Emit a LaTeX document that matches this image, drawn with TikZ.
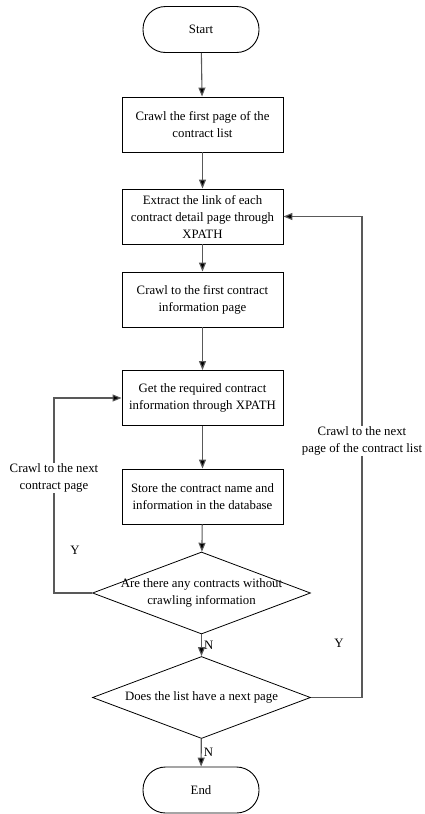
\documentclass[tikz,border=0pt]{standalone}
\usepackage{fontspec}
\setmainfont{Liberation Serif}
\usetikzlibrary{arrows.meta,shapes.geometric}
\begin{document}
\begin{tikzpicture}[x=1pt,y=-1pt,
  every node/.style={font=\fontsize{12.8}{17}\selectfont},
  proc/.style={draw=black,line width=0.9pt,minimum width=161pt,minimum height=55pt,align=center,inner sep=0pt},
  term/.style={draw=black,line width=0.9pt,minimum width=116pt,minimum height=46pt,rounded corners=22.5pt,inner sep=0pt},
  decis/.style={draw=black,line width=0.8pt,diamond,minimum width=218pt,minimum height=82pt,inner sep=0pt},
  conn/.style={draw=black!65,line width=1.1pt},
  arr/.style={conn,-{Triangle[length=9pt,width=7pt,fill=black]}},
  lbl/.style={fill=white,inner sep=1pt,align=center}]
\useasboundingbox (0,0) rectangle (425,814);
\node[term] (start) at (201,29.5) {Start};
\node[proc] (b1) at (202.5,124.5) {Crawl the first page of the\\contract list};
\node[proc] (b2) at (202.5,216.5) {Extract the link of each\\contract detail page through\\XPATH};
\node[proc] (b3) at (202.5,299.5) {Crawl to the first contract\\information page};
\node[proc] (b4) at (202.5,398) {Get the required contract\\information through XPATH};
\node[proc] (b5) at (202.5,496.5) {Store the contract name and\\information in the database};
\node[decis] (d1) at (201.5,593) {};
\node[align=center,inner sep=0pt] (d1t) at (201.5,593) {Are there any contracts without\\crawling information};
\node[decis] (d2) at (201.5,697.5) {};
\node[inner sep=0pt] (d2t) at (201.5,697.5) {Does the list have a next page};
\node[term] (end) at (201,790) {End};
\coordinate (lc) at (54,398);
\coordinate (rc) at (362,216.5);
\draw[arr] (start) -- (b1);
\draw[arr] (b1) -- (b2);
\draw[arr] (b2) -- (b3);
\draw[arr] (b3) -- (b4);
\draw[arr] (b4) -- (b5);
\draw[arr] (b5) -- (d1);
\draw[arr] (d1) -- node[right=1pt,inner sep=1pt] {N} (d2);
\draw[arr] (d2) -- node[right=1pt,inner sep=1pt] {N} (end);
\draw[arr] (d1.west) -| (lc) -- (b4.west);
\draw[arr] (d2.east) -| (rc) -- (b2.east);
\node[lbl] (ll) at (54,478) {Crawl to the next\\contract page};
\node[lbl] (rl) at (362,441) {Crawl to the next\\page of the contract list};
\node (ly) at (75,550) {Y};
\node (ry) at (339,643) {Y};
\end{tikzpicture}
\end{document}
